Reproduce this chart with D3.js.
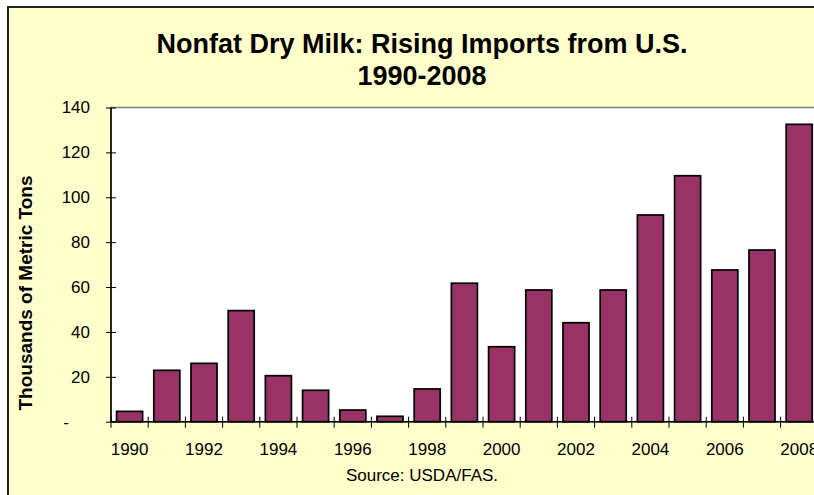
<!DOCTYPE html>
<html>
<head>
<meta charset="utf-8">
<script src="https://cdn.jsdelivr.net/npm/d3@7"></script>
<style>
  body { margin: 0; background: #fff; }
  text { font-family: "Liberation Sans", Arial, sans-serif; fill: #000; }
</style>
</head>
<body>
<div class="chart"></div>
<script>
const years = [1990, 1991, 1992, 1993, 1994, 1995, 1996, 1997, 1998, 1999,
               2000, 2001, 2002, 2003, 2004, 2005, 2006, 2007, 2008];
const imports = [4.6, 22.9, 26, 49.5, 20.5, 14, 5.2, 2.4, 14.6, 61.7,
                 33.4, 58.7, 44.1, 58.7, 92.1, 109.6, 67.6, 76.5, 132.5];
const yTicks = [0, 20, 40, 60, 80, 100, 120, 140];
const xLabels = [1990, 1992, 1994, 1996, 1998, 2000, 2002, 2004, 2006, 2008];

const w = 814;
const h = 495;
const plot = { left: 111, top: 107.5, right: 111 + 19 * 37.2, bottom: 421.7 };

const svg = d3.select('.chart')
              .append('svg')
              .attr('width', w)
              .attr('height', h);

// chart area (runs off the right and bottom edges)
svg.append('rect')
   .attr('x', 8)
   .attr('y', 7)
   .attr('width', 840)
   .attr('height', 510)
   .attr('fill', '#FFFFCC')
   .attr('stroke', '#222')
   .attr('stroke-width', 2);

const x = d3.scaleBand()
            .domain(years)
            .range([plot.left, plot.right])
            .paddingInner(0.3)
            .paddingOuter(0.15);

const y = d3.scaleLinear()
            .domain([0, 140])
            .range([plot.bottom, plot.top]);

// plot area
svg.append('rect')
   .attr('x', plot.left)
   .attr('y', plot.top)
   .attr('width', plot.right - plot.left)
   .attr('height', plot.bottom - plot.top)
   .attr('fill', '#fff')
   .attr('stroke', '#808080')
   .attr('stroke-width', 1.5);

svg.selectAll('rect.bar')
   .data(imports)
   .enter()
   .append('rect')
   .attr('class', 'bar')
   .attr('x', (d, i) => x(years[i]))
   .attr('y', d => y(d))
   .attr('width', x.bandwidth())
   .attr('height', d => y(0) - y(d))
   .attr('fill', '#993366')
   .attr('stroke', '#000')
   .attr('stroke-width', 1.7);

// y axis, ticks crossing the line
const yAxis = d3.axisLeft(y)
                .tickValues(yTicks)
                .tickSize(10)
                .tickSizeOuter(0)
                .tickPadding(16)
                .tickFormat(d => d === 0 ? '-' : d);

const yg = svg.append('g')
              .attr('transform', `translate(${plot.left + 5}, 0)`)
              .call(yAxis);
yg.select('.domain').remove();
yg.selectAll('line').attr('stroke', '#000');
yg.selectAll('text')
  .style('font-size', '17px')
  .attr('x', d => d === 0 ? -47 : -26);

// x axis labels
const xAxis = d3.axisBottom(x)
                .tickValues(xLabels)
                .tickSize(0)
                .tickPadding(21);

const xg = svg.append('g')
              .attr('transform', `translate(0, ${plot.bottom})`)
              .call(xAxis);
xg.select('.domain').remove();
xg.selectAll('text').style('font-size', '17px');

// category boundary ticks
const step = x.step();
svg.selectAll('line.xtick')
   .data(years.concat([2009]))
   .enter()
   .append('line')
   .attr('class', 'xtick')
   .attr('x1', (d, i) => plot.left + i * step)
   .attr('x2', (d, i) => plot.left + i * step)
   .attr('y1', plot.bottom - 5)
   .attr('y2', plot.bottom + 6)
   .attr('stroke', '#000');

// axis lines
svg.append('line')
   .attr('x1', plot.left).attr('x2', plot.right)
   .attr('y1', plot.bottom).attr('y2', plot.bottom)
   .attr('stroke', '#000').attr('stroke-width', 1.5);
svg.append('line')
   .attr('x1', plot.left).attr('x2', plot.left)
   .attr('y1', plot.top).attr('y2', plot.bottom)
   .attr('stroke', '#000').attr('stroke-width', 1.5);

// titles
svg.append('text')
   .attr('x', 422)
   .attr('y', 53)
   .style('text-anchor', 'middle')
   .style('font-size', '27px')
   .style('font-weight', 'bold')
   .text('Nonfat Dry Milk: Rising Imports from U.S.');

svg.append('text')
   .attr('x', 422)
   .attr('y', 85)
   .style('text-anchor', 'middle')
   .style('font-size', '27px')
   .style('font-weight', 'bold')
   .text('1990-2008');

svg.append('text')
   .attr('transform', 'translate(32, 293) rotate(-90)')
   .style('text-anchor', 'middle')
   .style('font-size', '19px')
   .style('font-weight', 'bold')
   .text('Thousands of Metric Tons');

svg.append('text')
   .attr('x', 422)
   .attr('y', 481)
   .style('text-anchor', 'middle')
   .style('font-size', '17px')
   .text('Source: USDA/FAS.');
</script>
</body>
</html>
